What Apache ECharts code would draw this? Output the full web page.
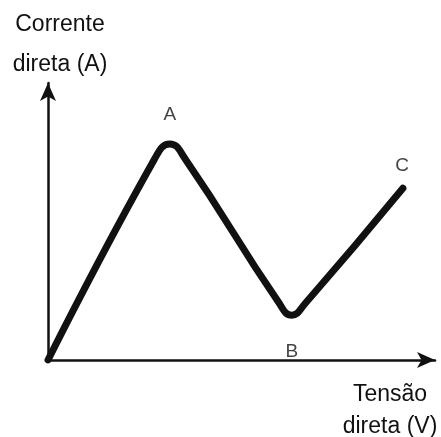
<!DOCTYPE html>
<html>
<head>
<meta charset="utf-8">
<script src="https://cdn.jsdelivr.net/npm/echarts@6/dist/echarts.min.js"></script>
<style>
html, body { margin: 0; padding: 0; background: #fff; }
#chart { width: 441px; height: 437px; }
</style>
</head>
<body>
<div id="chart"></div>
<script>
// curva característica (tensão x corrente)
var tensao   = [0, 27.5, 31.5, 35.5, 59.5, 63, 66.5, 91.7];
var corrente = [0, 72.5, 78, 72.5, 21, 16.2, 20.5, 62];

var pontosNomes = ['A', 'B', 'C'];
var pontosX = [31.5, 63, 91.5];
var pontosY = [88.4, 3, 70];

var nomeX = 'Tensão\ndireta (V)';
var nomeY = 'Corrente\ndireta (A)';

var fonte = 'Liberation Sans, Arial, sans-serif';

var curva = tensao.map(function(v, i) { return [v, corrente[i]]; });
var pontos = pontosNomes.map(function(n, i) {
	return { name: n, value: [pontosX[i], pontosY[i]] };
});

var chart = echarts.init(document.getElementById('chart'));

var options =
{
	animation: false,
	grid: { left: 48, top: 83, right: 6, bottom: 77, outerBoundsMode: 'none', containLabel: false },
	xAxis: {
		type: 'value',
		min: 0,
		max: 100,
		name: nomeX,
		nameLocation: 'end',
		nameGap: -45,
		nameTextStyle: {
			fontFamily: fonte,
			fontSize: 23,
			color: '#111',
			align: 'center',
			verticalAlign: 'top',
			lineHeight: 32,
			padding: [19, 0, 0, 0]
		},
		axisLine: {
			show: true,
			symbol: ['none', 'arrow'],
			symbolSize: [12, 18],
			lineStyle: { color: '#111', width: 2.5 }
		},
		axisTick: { show: false },
		axisLabel: { show: false },
		splitLine: { show: false }
	},
	yAxis: {
		type: 'value',
		min: 0,
		max: 100,
		name: nomeY,
		nameLocation: 'end',
		nameGap: -2,
		nameTextStyle: {
			fontFamily: fonte,
			fontSize: 23,
			color: '#111',
			align: 'center',
			lineHeight: 40,
			padding: [0, 0, 0, 24]
		},
		axisLine: {
			show: true,
			symbol: ['none', 'arrow'],
			symbolSize: [12, 18],
			lineStyle: { color: '#111', width: 2.5 }
		},
		axisTick: { show: false },
		axisLabel: { show: false },
		splitLine: { show: false }
	},
	series: [{
		type: 'line',
		data: curva,
		smooth: 0.5,
		showSymbol: false,
		lineStyle: { color: '#111', width: 7, cap: 'round', join: 'round' }
	}, {
		type: 'scatter',
		data: pontos,
		symbolSize: 2,
		itemStyle: { color: 'rgba(0,0,0,0)' },
		label: {
			show: true,
			position: 'inside',
			formatter: '{b}',
			fontFamily: fonte,
			fontSize: 19,
			color: '#111'
		}
	}]
};

chart.setOption(options);
</script>
</body>
</html>
